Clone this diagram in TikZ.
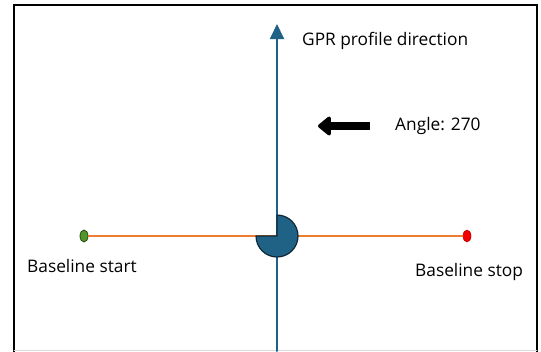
\documentclass[tikz,border=0pt]{standalone}
\usepackage{fontspec}
\setmainfont{Open Sans}
\usetikzlibrary{arrows.meta,shapes.geometric}
\definecolor{profblue}{RGB}{31,98,133}
\definecolor{pieedge}{RGB}{14,40,58}
\definecolor{baseorange}{RGB}{237,125,49}
\definecolor{startgreen}{RGB}{80,150,40}
\definecolor{stopred}{RGB}{240,0,0}

\begin{document}
\begin{tikzpicture}[x=1pt,y=-1pt,font=\fontsize{17.3}{19}\selectfont,line cap=round]
\useasboundingbox (0,0) rectangle (541,351);
% frame, open at the bottom
\draw[line width=1.8pt,line cap=rect] (14,351) -- (14,5) -- (537,5) -- (537,351);
\draw[gray!30,line width=0.8pt] (14,350.5) -- (537,350.5);
% end points
\coordinate (bot) at (277,351);
\coordinate (tip) at (277,24);
\coordinate (ctr) at (277,236);
\node[ellipse,draw=startgreen!50!black,fill=startgreen,line width=0.8pt,minimum width=8pt,minimum height=12pt,inner sep=0pt] (bstart) at (84,236) {};
\node[ellipse,draw=stopred!80!black,fill=stopred,line width=0.6pt,minimum width=8pt,minimum height=12pt,inner sep=0pt] (bstop) at (467,236) {};
% baseline
\draw[baseorange,line width=1.6pt] (bstart) -- (bstop);
% profile direction
\draw[profblue,line width=2pt,-{Triangle[length=15pt,width=14pt]}] (bot) -- (tip);
% angle sector
\draw[pieedge,fill=profblue,line width=1.2pt,line join=round] (ctr) -- ++(-21,0) arc[start angle=180,end angle=-90,radius=21] -- cycle;
% direction of rotation
\coordinate (arrtail) at (370,126);
\coordinate (arrhead) at (318,126);
\draw[black,line width=7.5pt,line cap=butt,-{Triangle[length=14pt,width=22pt,round]}] (arrtail) -- (arrhead);
% labels
\node[anchor=west,inner sep=0pt] (angle) at (395,126) {Angle: 270};
\node[anchor=west,inner sep=0pt] (gprlab) at (302,41) {GPR profile direction};
\node[anchor=west,inner sep=0pt] (startlab) at (27,266) {Baseline start};
\node[anchor=west,inner sep=0pt] (stoplab) at (415,272) {Baseline stop};
\end{tikzpicture}
\end{document}
